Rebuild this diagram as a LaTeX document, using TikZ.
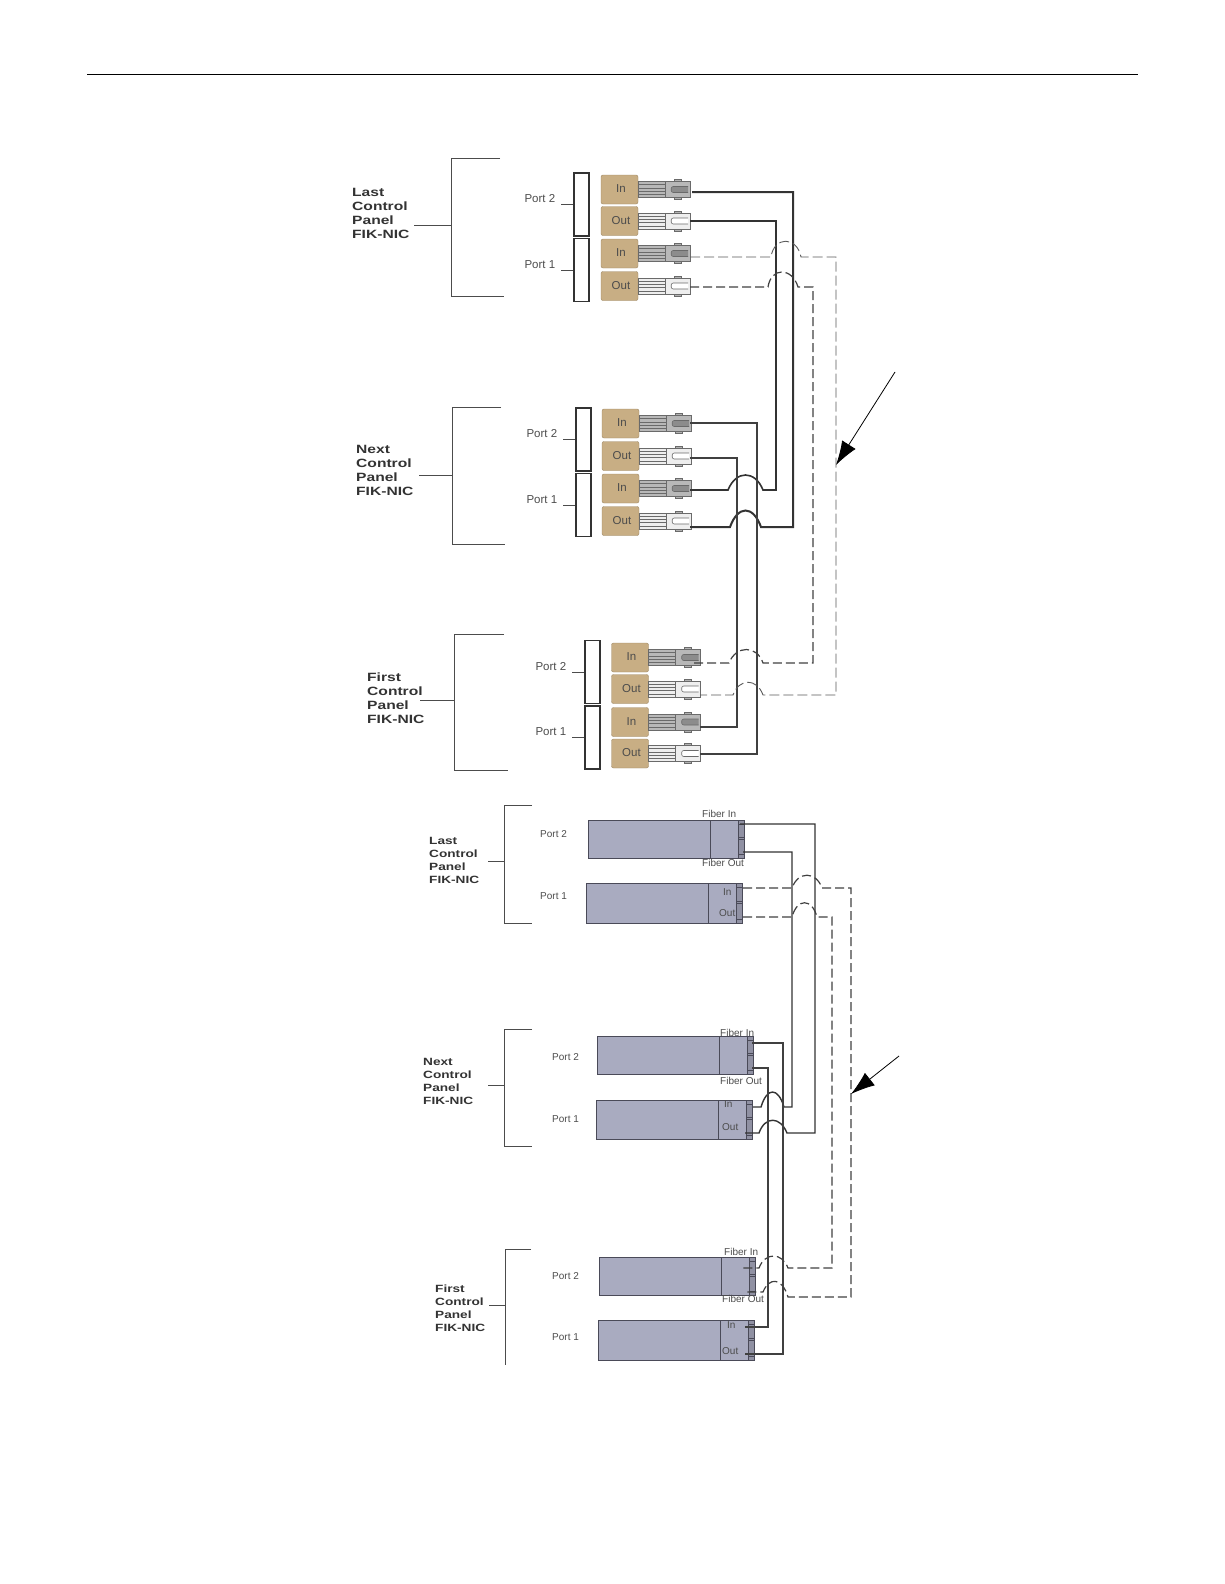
\documentclass[tikz,border=0pt]{standalone}
\usepackage{fontspec}
\setmainfont{Liberation Sans}
\newfontfamily\pnlfont[FakeStretch=1.3]{Liberation Sans}
\usepackage{xcolor}
\usetikzlibrary{arrows.meta,positioning,calc}
\definecolor{tanfill}{HTML}{C8AE84}
\definecolor{tanedge}{HTML}{9C8662}
\definecolor{modfill}{HTML}{A9ABC0}
\definecolor{modedge}{HTML}{4A4A58}
\definecolor{conIn}{HTML}{B8B8B8}
\definecolor{conOut}{HTML}{EEEEEE}
\definecolor{slotIn}{HTML}{8C8C8C}
\definecolor{slotOut}{HTML}{FFFFFF}
\definecolor{inkgrey}{HTML}{4C4C4C}
\definecolor{conedge}{HTML}{6A6A6A}
\tikzset{
pics/fibercon/.style={code={
  \draw[line width=.6pt,draw=conedge,fill=con#1] (0,-8) rectangle (27,8);
  \foreach \hy in {-4.8,-1.6,1.6,4.8}{\draw[line width=.6pt,draw=conedge] (0,\hy) -- (27,\hy);}
  \draw[line width=.6pt,draw=conedge,fill=con#1] (27,-8) rectangle (52,8);
  \draw[line width=.6pt,draw=conedge,fill=gray!60] (36,-10) rectangle (43,-8);
  \draw[line width=.6pt,draw=conedge,fill=gray!60] (36,8) rectangle (43,10);
  \draw[line width=.6pt,draw=conedge,fill=slot#1,rounded corners=2pt] (50,-3) -- (33,-3) -- (33,3) -- (50,3);
}}
}
\begin{document}
\begin{tikzpicture}[x=1pt,y=-1pt,
tanbox/.style={draw=tanedge,fill=tanfill,rounded corners=2pt,minimum width=37pt,minimum height=29pt,inner sep=0pt,font=\fontsize{11.5}{13}\selectfont,text=inkgrey},
panelbox/.style={draw=black!80,line width=1.1pt,fill=white,minimum width=15pt,minimum height=63pt,inner sep=0pt},
portlabel/.style={inner sep=0pt,text=inkgrey,font=\fontsize{11.5}{13}\selectfont},
smalllabel/.style={inner sep=0pt,text=inkgrey,font=\fontsize{10}{12}\selectfont},
pnllabel/.style={inner sep=0pt,align=left,text=black!80},
bracket/.style={draw=inkgrey,line width=.8pt},
modbody/.style={draw=modedge,line width=.8pt,fill=modfill,minimum width=122pt,inner sep=0pt,outer sep=0pt},
modfront/.style={draw=modedge,line width=.8pt,fill=modfill,minimum width=28pt,inner sep=0pt,outer sep=0pt},
modstrip/.style={draw=modedge,line width=.8pt,fill=modfill!85!black,minimum width=6pt,inner sep=0pt,outer sep=0pt},
fiber/.style={draw=black!80,line width=1.4pt},
fiberlight/.style={draw=black!75,line width=1.1pt},
dashfiber/.style={draw=black!75,line width=1.2pt,dash pattern=on 9pt off 4pt},
dashlight/.style={draw=black!65,line width=.9pt,dash pattern=on 10pt off 4pt},
callout/.style={draw=black,line width=.8pt,-{Latex[length=24pt,width=16pt]}}]
\useasboundingbox (0,0) rectangle (1224,1584);
\draw[line width=1pt] (87,75) -- (1138,75);

% brackets of the panels
\foreach \nm/\stx/\bx/\ya/\yb/\xa/\xb/\ys in {last/414/451/158/296/500/504/225,next/419/452/407/544/501/505/475,first/420/454/634/770/504/508/700,
  lowlast/488/504/805/923/532/532/861,lownext/488/504/1029/1146/532/532/1085,lowfirst/489/505/1249/1365/531/505/1305}{
  \coordinate (\nm st) at (\stx,\ys);
  \draw[bracket] (\xa,\ya) -| (\bx,\yb) -- (\xb,\yb);
  \draw[bracket] (\nm st) -- (\bx,\ys);
}

% panel names
\foreach \nm/\xx/\yy/\first in {lab1/352/213/Last,lab2/356/470/Next,lab3/367/698/First}{
  \node[pnllabel,anchor=west,font=\pnlfont\bfseries\fontsize{12}{14}\selectfont] (\nm) at (\xx,\yy) {\first\\Control\\Panel\\FIK-NIC};
}
\foreach \nm/\xx/\yy/\first in {lab4/429/860/Last,lab5/423/1081/Next,lab6/435/1308/First}{
  \node[pnllabel,anchor=west,font=\pnlfont\bfseries\fontsize{10.5}{13}\selectfont] (\nm) at (\xx,\yy) {\first\\Control\\Panel\\FIK-NIC};
}

% NIC plates and port names
\foreach \nm/\xx/\yy/\prt in {lastp2/581.5/204.5/Port 2,lastp1/581.5/270/Port 1,nextp2/583.5/439.5/Port 2,nextp1/583.5/505/Port 1,firstp2/592.5/672/Port 2,firstp1/592.5/737.5/Port 1}{
  \node[panelbox] (\nm) at (\xx,\yy) {};
  \node[portlabel,left=18pt of \nm.west,yshift=5.5pt] (\nm lab) {\prt};
  \draw[bracket,line width=1pt] ($(\nm.west)+(-12,0)$) -- (\nm.west);
}

% In and Out blocks with their connectors
\foreach \nm/\xx/\yy/\txt in {last2in/619.5/189.5/In,last2out/619.5/221/Out,last1in/619.5/253.5/In,last1out/619.5/286/Out,
  next2in/620.5/423.5/In,next2out/620.5/456/Out,next1in/620.5/488.5/In,next1out/620.5/521/Out,
  first2in/630/657.5/In,first2out/630/689/Out,first1in/630/722/In,first1out/630/753.5/Out}{
  \node[tanbox] (\nm) at (\xx,\yy) {\hspace*{3pt}\raisebox{1.5pt}{\txt}};
  \pic at (\nm.east) {fibercon=\txt};
}

% lower modules
\foreach \nm/\xx/\yy/\hh/\prt/\lx/\ly in {lowl2/588/820/38/Port 2/540/834,lowl1/586/883/40/Port 1/540/896,
  lown2/597/1036/38/Port 2/552/1057,lown1/596/1100/39/Port 1/552/1119,
  lowf2/599/1257/38/Port 2/552/1276,lowf1/598/1320/40/Port 1/552/1337}{
  \node[modbody,anchor=north west,minimum height=\hh pt] (\nm) at (\xx,\yy) {};
  \node[modfront,minimum height=\hh pt,right=0pt of \nm] (\nm f) {};
  \node[modstrip,minimum height=\hh pt,right=0pt of \nm f] (\nm s) {};
  \foreach \ff in {.1,.45,.5,.9}{
    \draw[draw=modedge,line width=.6pt] ($(\nm s.north west)!\ff!(\nm s.south west)$) -- ($(\nm s.north east)!\ff!(\nm s.south east)$);
  }
  \node[smalllabel,anchor=west] (\nm lab) at (\lx,\ly) {\prt};
}

% texts on the modules
\foreach \nm/\xx/\yy/\txt in {fl1/702/814/Fiber In,fl2/702/863/Fiber Out,fl3/723/892/In,fl4/719/913/Out,
  fl5/720/1033/Fiber In,fl6/720/1081/Fiber Out,fl7/724/1104/In,fl8/722/1127/Out,
  fl9/724/1252/Fiber In,fl10/722/1299/Fiber Out,fl11/727/1325/In,fl12/722/1351/Out}{
  \node[smalllabel,anchor=west] (\nm) at (\xx,\yy) {\txt};
}

% free ends of the fibers
\foreach \nm/\xx/\yy in {t2in/692/192,t2out/690/221,t1in/690/257,t1out/690/287,
  m2in/690/423,m2out/690/458,m1in/690/490,m1out/690/527,
  b2in/693/663,b2out/700/695,b1in/700/727,b1out/700/754,
  u2in/740/824,u2out/743/852,u1in/743/888,u1out/743/917,
  v2in/752/1043,v2out/752/1068,v1in/753/1107,v1out/745/1133,
  w2in/743/1268,w2out/745/1292,w1in/745/1327,w1out/745/1354}{
  \coordinate (\nm) at (\xx,\yy);
}

% upper set
\draw[fiber,line width=2pt] (t2in) -| (793,527) -- (761,527) .. controls (753,505) and (738,505) .. (730,527) -- (m1out);
\draw[fiber,line width=1.6pt] (t2out) -| (776,490) -- (763,490) .. controls (755,470) and (736,470) .. (728,490) -- (m1in);
\draw[fiberlight] (m2in) -| (757,754) -- (b1out);
\draw[fiberlight] (m2out) -| (737,727) -- (b1in);
\draw[dashlight] (t1in) -- (771,257) .. controls (774,236) and (797,236) .. (801,257) -- (836,257) -- (836,695) -- (763,695) .. controls (757,678) and (739,678) .. (733,695) -- (b2out);
\draw[dashfiber] (t1out) -- (768,287) .. controls (771,267) and (792,267) .. (798,287) -- (813,287) -- (813,663) -- (763,663) .. controls (757,645) and (736,645) .. (729,663) -- (b2in);

% lower set
\draw[fiber] (u2in) -| (815,1133) -- (787,1133) .. controls (780,1116) and (765,1116) .. (759,1133) -- (v1out);
\draw[fiber] (u2out) -| (792,1107) -- (784,1107) .. controls (778,1087) and (767,1087) .. (761,1107) -- (v1in);
\draw[fiberlight] (v2in) -| (783,1354) -- (w1out);
\draw[fiberlight] (v2out) -| (768,1327) -- (w1in);
\draw[dashfiber] (u1in) -- (792,888) .. controls (798,871) and (816,871) .. (822,888) -- (851,888) -- (851,1297) -- (788,1297) .. controls (782,1277) and (769,1277) .. (763,1292) -- (w2out);
\draw[dashfiber] (u1out) -- (792,917) .. controls (797,898) and (812,898) .. (817,917) -- (832,917) -- (832,1268) -- (788,1268) .. controls (782,1252) and (765,1252) .. (759,1268) -- (w2in);

% callouts
\coordinate (tailA) at (895,372);
\coordinate (tipA) at (836,465);
\coordinate (tailB) at (899,1056);
\coordinate (tipB) at (851,1094);
\draw[callout] (tailA) -- (tipA);
\draw[callout] (tailB) -- (tipB);
\end{tikzpicture}
\end{document}
